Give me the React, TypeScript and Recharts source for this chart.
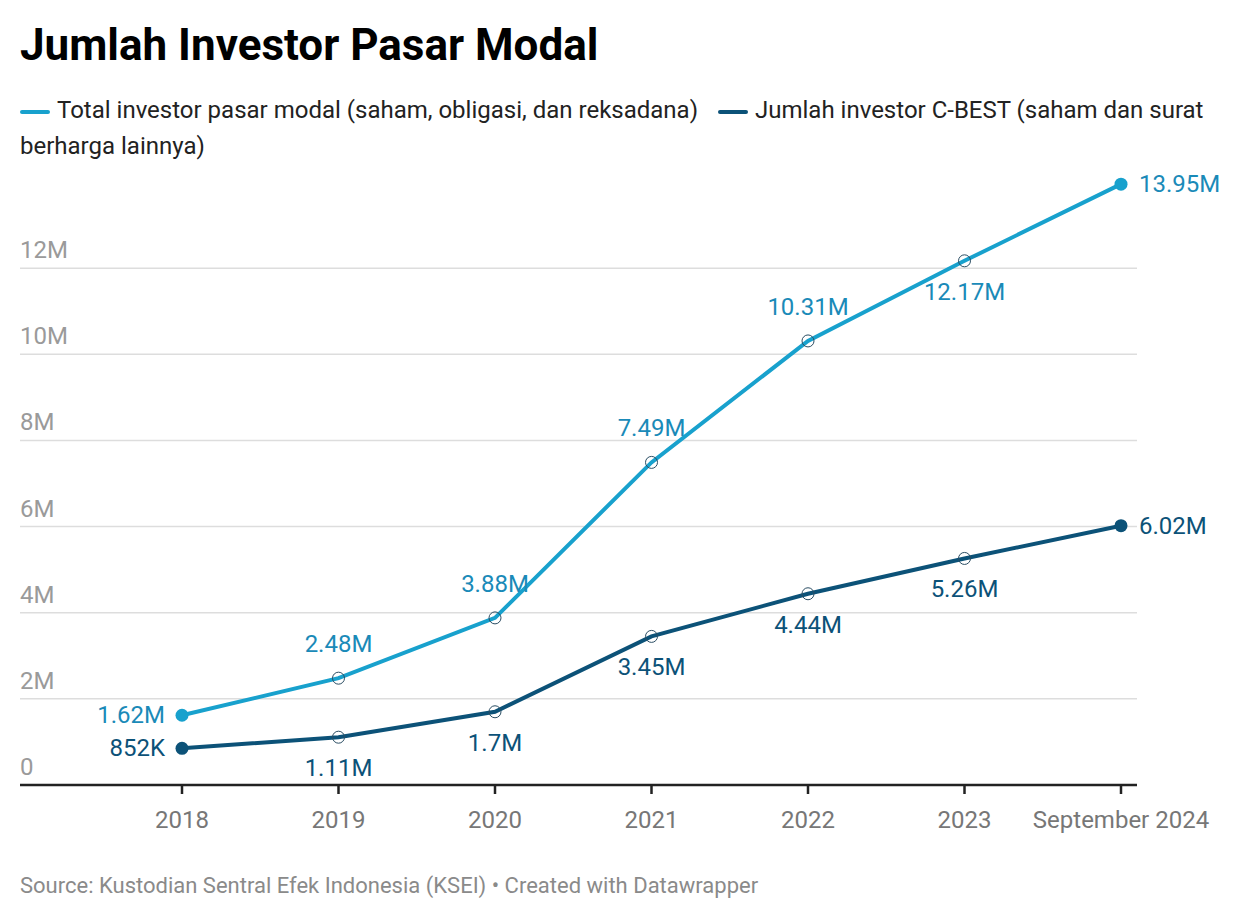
import React from 'react';
import { LineChart, Line, XAxis, YAxis, CartesianGrid, LabelList } from 'recharts';

const categories = ['2018', '2019', '2020', '2021', '2022', '2023', 'September 2024'];
const totalValues = [1620000, 2480000, 3880000, 7490000, 10310000, 12170000, 13950000];
const cbestValues = [852000, 1110000, 1700000, 3450000, 4440000, 5260000, 6020000];
const totalLabels = ['1.62M', '2.48M', '3.88M', '7.49M', '10.31M', '12.17M', '13.95M'];
const cbestLabels = ['852K', '1.11M', '1.7M', '3.45M', '4.44M', '5.26M', '6.02M'];
const totalPlaces = ['left', 'top', 'top', 'top', 'top', 'bottom', 'right'];
const cbestPlaces = ['left', 'bottom', 'bottom', 'bottom', 'bottom', 'bottom', 'right'];
const yTicks = [0, 2000000, 4000000, 6000000, 8000000, 10000000, 12000000];
const yTickLabels = ['0', '2M', '4M', '6M', '8M', '10M', '12M'];

const LIGHT = '#18a1cd';
const LIGHT_TEXT = '#1a8ab8';
const DARK = '#0c5278';
const DARK_TEXT = '#0c5278';
const FONT = 'Roboto, sans-serif';

const data = categories.map((c, i) => ({
  name: c,
  total: totalValues[i],
  cbest: cbestValues[i],
}));

function makeDot(color: string) {
  return (props: any) => {
    const { cx, cy, index } = props;
    if (index === 0 || index === categories.length - 1) {
      return <circle key={`d${index}`} cx={cx} cy={cy} r={6.5} fill={color} />;
    }
    return <circle key={`d${index}`} cx={cx} cy={cy} r={6} fill="none" stroke="#2a4d63" strokeWidth={1} />;
  };
}

function makeLabel(labels: string[], places: string[], color: string) {
  return (props: any) => {
    const { x, y, index } = props;
    const place = places[index];
    let tx = x;
    let ty = y;
    let anchor: 'start' | 'middle' | 'end' = 'middle';
    if (place === 'left') {
      tx = x - 17;
      anchor = 'end';
    } else if (place === 'right') {
      tx = x + 18;
      anchor = 'start';
    } else if (place === 'top') {
      ty = y - 34;
    } else {
      ty = y + 31;
    }
    return (
      <text
        key={`l${index}`}
        x={tx}
        y={ty}
        textAnchor={anchor}
        dominantBaseline="central"
        fill={color}
        fontSize={24}
        fontFamily={FONT}
      >
        {labels[index]}
      </text>
    );
  };
}

const renderYTick = (props: any) => {
  const { y, payload, index } = props;
  const i = yTicks.indexOf(payload.value);
  return (
    <text key={`yt${index}`} x={20} y={y - 10} fill="#9a9a9a" fontSize={24} fontFamily={FONT} textAnchor="start">
      {yTickLabels[i]}
    </text>
  );
};

const marker = (color: string) => (
  <span
    style={{
      display: 'inline-block',
      width: 30,
      height: 4,
      borderRadius: 2,
      background: color,
      verticalAlign: 'middle',
      marginRight: 7,
    }}
  />
);

export default function App() {
  return (
    <div
      style={{
        position: 'absolute',
        left: 0,
        top: 0,
        width: 1240,
        height: 922,
        background: '#fff',
        fontFamily: FONT,
        overflow: 'hidden',
      }}
    >
      <div
        style={{
          position: 'absolute',
          left: 20,
          top: 17,
          fontSize: 44,
          fontWeight: 700,
          color: '#000',
          lineHeight: '56px',
        }}
      >
        Jumlah Investor Pasar Modal
      </div>
      <div
        style={{
          position: 'absolute',
          left: 20,
          top: 92,
          width: 1200,
          fontSize: 24,
          lineHeight: '36px',
          color: '#222',
        }}
      >
        <div style={{ whiteSpace: 'nowrap' }}>
          <span style={{ marginRight: 20 }}>
            {marker(LIGHT)}
            Total investor pasar modal (saham, obligasi, dan reksadana)
          </span>
          <span>
            {marker(DARK)}
            Jumlah investor C-BEST (saham dan surat
          </span>
        </div>
        <div>berharga lainnya)</div>
      </div>
      <div style={{ position: 'absolute', left: 0, top: 160 }}>
        <LineChart width={1240} height={720} data={data} margin={{ top: 22, right: 103, bottom: 0, left: 19 }}>
          <CartesianGrid vertical={false} stroke="#dddddd" strokeWidth={1.5} horizontalValues={yTicks} />
          <XAxis
            dataKey="name"
            padding={{ left: 162, right: 16 }}
            height={95}
            axisLine={{ stroke: '#222', strokeWidth: 2.5 }}
            tickLine={{ stroke: '#222', strokeWidth: 2.5 }}
            tickSize={9}
            tickMargin={17}
            tick={{ fill: '#777', fontSize: 24, fontFamily: FONT }}
            interval={0}
          />
          <YAxis
            width={1}
            domain={[0, 14000000]}
            ticks={yTicks}
            axisLine={false}
            tickLine={false}
            tick={renderYTick}
            interval={0}
          />
          <Line
            dataKey="total"
            stroke={LIGHT}
            strokeWidth={4}
            dot={makeDot(LIGHT)}
            activeDot={false}
            isAnimationActive={false}
            type="linear"
          >
            <LabelList dataKey="total" content={makeLabel(totalLabels, totalPlaces, LIGHT_TEXT)} />
          </Line>
          <Line
            dataKey="cbest"
            stroke={DARK}
            strokeWidth={4}
            dot={makeDot(DARK)}
            activeDot={false}
            isAnimationActive={false}
            type="linear"
          >
            <LabelList dataKey="cbest" content={makeLabel(cbestLabels, cbestPlaces, DARK_TEXT)} />
          </Line>
        </LineChart>
      </div>
      <div
        style={{
          position: 'absolute',
          left: 20,
          top: 873,
          fontSize: 22,
          color: '#8a8a8a',
          lineHeight: '26px',
        }}
      >
        Source: Kustodian Sentral Efek Indonesia (KSEI) • Created with Datawrapper
      </div>
    </div>
  );
}
